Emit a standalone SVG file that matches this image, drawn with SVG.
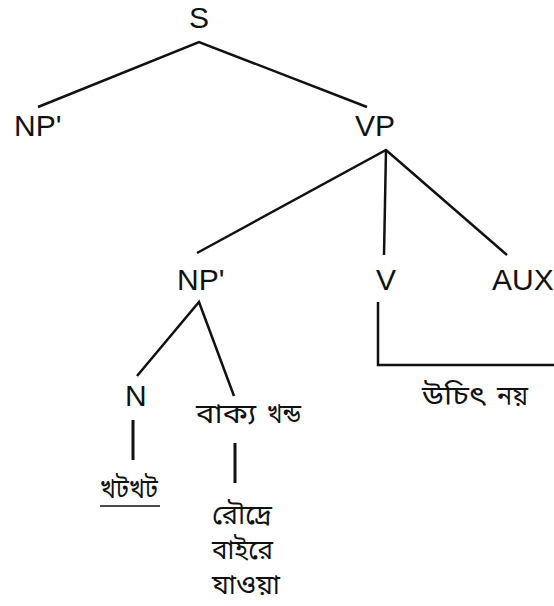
<svg xmlns="http://www.w3.org/2000/svg" width="554" height="606" viewBox="0 0 554 606">
  <style>
    .lbl { font-family: "Liberation Sans", Arial, sans-serif; font-size: 30px; fill: #111; }
    .bn { font-family: "Noto Sans Bengali", "Nirmala UI", "Vrinda", "Noto Sans", sans-serif; font-size: 27px; fill: #111; }
    .edge { stroke: #111; stroke-width: 2.5; fill: none; stroke-linecap: butt; }
    .stem { stroke: #111; stroke-width: 3; fill: none; }
  </style>
  <rect width="554" height="606" fill="#fff"/>

  <!-- tree branches -->
  <g id="connectors">
    <polyline class="edge" points="38,107 199,42 367,107"/>
    <polyline class="edge" points="197,253 386,150 507,255"/>
    <line class="edge" x1="386" y1="150" x2="384" y2="255"/>
    <polyline class="edge" points="137,376 199,302 234,396"/>
    <polyline class="edge" points="378,302 378,365 554,365"/>
    <line class="stem" x1="133" y1="420" x2="133" y2="460"/>
    <line class="stem" x1="235" y1="443" x2="235" y2="483"/>
  </g>

  <g id="S"><text class="lbl" x="199" y="28" text-anchor="middle">S</text></g>
  <g id="NP1"><text class="lbl" x="14" y="136">NP'</text></g>
  <g id="VP"><text class="lbl" x="355" y="136">VP</text></g>
  <g id="NP2"><text class="lbl" x="177" y="290">NP'</text></g>
  <g id="V"><text class="lbl" x="376" y="290">V</text></g>
  <g id="AUX"><text class="lbl" x="492" y="290">AUX</text></g>
  <g id="N"><text class="lbl" x="125" y="406">N</text></g>
  <g id="phrase">
    <text class="bn" y="423"><tspan x="196" textLength="60" lengthAdjust="spacingAndGlyphs">বাক্য</tspan> <tspan x="267" textLength="34" lengthAdjust="spacingAndGlyphs">খন্ড</tspan></text>
  </g>
  <g id="uchit">
    <text class="bn" y="405"><tspan x="422" textLength="63" lengthAdjust="spacingAndGlyphs">উচিৎ</tspan> <tspan x="497" textLength="31" lengthAdjust="spacingAndGlyphs">নয়</tspan></text>
  </g>
  <g id="khotkhot">
    <text class="bn" x="100" y="498" textLength="58" lengthAdjust="spacingAndGlyphs">খটখট</text>
    <line x1="100" y1="506" x2="160" y2="506" stroke="#111" stroke-width="1.5"/>
  </g>
  <g id="rodre">
    <text class="bn" x="212" y="524" textLength="60" lengthAdjust="spacingAndGlyphs">রৌদ্রে</text>
    <text class="bn" x="212" y="559" textLength="61" lengthAdjust="spacingAndGlyphs">বাইরে</text>
    <text class="bn" x="212" y="594" textLength="68" lengthAdjust="spacingAndGlyphs">যাওয়া</text>
  </g>
</svg>
